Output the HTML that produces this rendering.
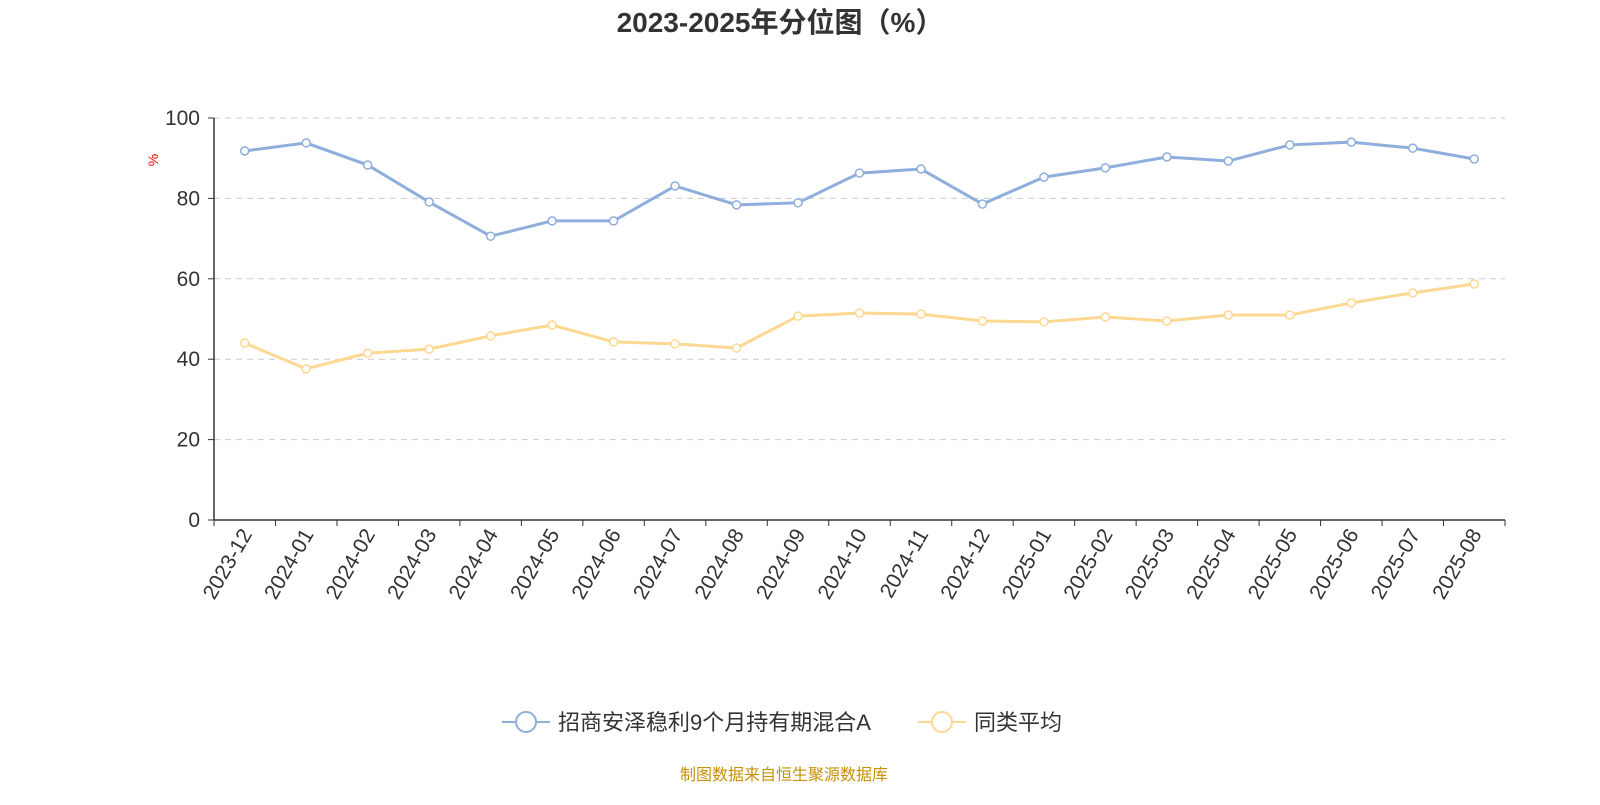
<!DOCTYPE html>
<html><head><meta charset="utf-8"><style>
body{margin:0;background:#fff;font-family:"Liberation Sans","Noto Sans CJK SC",sans-serif;}
svg text{font-family:"Liberation Sans","Noto Sans CJK SC",sans-serif;}
</style></head><body>
<svg id="chart" width="1600" height="800" viewBox="0 0 1600 800">
<text x="780" y="32" text-anchor="middle" font-size="28" font-weight="bold" fill="#333">2023-2025年分位图（%）</text>
<text x="158" y="160" font-size="14" fill="#e00" transform="rotate(-90 158 160)" text-anchor="middle">%</text>
<g id="grid"></g><g id="axes"></g><g id="series"></g>
<g>
<g>
<line x1="502" y1="722" x2="550" y2="722" stroke="#8eaedc" stroke-width="2"/>
<circle cx="526" cy="722" r="10" fill="#fff" stroke="#8eaedc" stroke-width="2"/>
<text x="558" y="730" font-size="22" fill="#333">招商安泽稳利9个月持有期混合A</text></g>
<g>
<line x1="918" y1="722" x2="966" y2="722" stroke="#fdd892" stroke-width="2"/>
<circle cx="942" cy="722" r="10" fill="#fff" stroke="#fdd892" stroke-width="2"/>
<text x="974" y="730" font-size="22" fill="#333">同类平均</text></g>
</g>
<text x="784" y="780" text-anchor="middle" font-size="16" fill="#c8900a">制图数据来自恒生聚源数据库</text>
</svg>
<script>
const categories=["2023-12","2024-01","2024-02","2024-03","2024-04","2024-05","2024-06","2024-07","2024-08","2024-09","2024-10","2024-11","2024-12","2025-01","2025-02","2025-03","2025-04","2025-05","2025-06","2025-07","2025-08"];
const fundValues=[91.8,93.8,88.3,79.1,70.6,74.4,74.4,83.1,78.4,78.9,86.3,87.3,78.6,85.3,87.6,90.3,89.3,93.3,94.0,92.5,89.8];
const avgValues=[44.0,37.6,41.5,42.5,45.8,48.5,44.3,43.8,42.8,50.7,51.5,51.2,49.5,49.3,50.5,49.5,51.0,51.0,54.0,56.5,58.7];
const yTicks=[0,20,40,60,80,100];
const NS="http://www.w3.org/2000/svg";
const L=214,R=1505,T=118,B=520;
const bw=(R-L)/categories.length;
const xPos=i=>L+bw*(i+0.5);
const yPos=v=>B-(v/100)*(B-T);
function mk(tag,attrs,parent){const e=document.createElementNS(NS,tag);for(const k in attrs)e.setAttribute(k,attrs[k]);parent.appendChild(e);return e;}
const grid=document.getElementById('grid'),axes=document.getElementById('axes'),series=document.getElementById('series');
yTicks.forEach(v=>{
 if(v>0){const g=mk('line',{x1:L,x2:R,y1:yPos(v),y2:yPos(v),stroke:'#ccc','stroke-dasharray':'6,5'},grid);
 
 }
 const t=mk('text',{x:L-14,y:yPos(v)+7,'text-anchor':'end','font-size':'21',fill:'#333'},axes);t.textContent=v;
 
 
 mk('line',{x1:L-6,x2:L,y1:yPos(v),y2:yPos(v),stroke:'#333'},axes);
});
const ya=mk('line',{x1:L,x2:L,y1:T,y2:B,stroke:'#333','stroke-width':1.5},axes);


const xa=mk('line',{x1:L,x2:R,y1:B,y2:B,stroke:'#333','stroke-width':1.5},axes);


for(let i=0;i<=categories.length;i++)mk('line',{x1:L+bw*i,x2:L+bw*i,y1:B,y2:B+6,stroke:'#333'},axes);
categories.forEach((c,i)=>{
 const x=xPos(i)+8,y=B+14;
 const t=mk('text',{x:x,y:y,'text-anchor':'end','font-size':'21',fill:'#333',transform:`rotate(-60 ${x} ${y})`},axes);
 t.textContent=c;
 
 
});
function drawSeries(vals,color,name){
 const p=mk('polyline',{points:vals.map((v,i)=>xPos(i)+','+yPos(v)).join(' '),fill:'none',stroke:color,'stroke-width':3},series);
 
 
 vals.forEach((v,i)=>{const c=mk('circle',{cx:xPos(i),cy:yPos(v),r:4,fill:'#fff',stroke:color,'stroke-width':1.5},series);
 
 });
}
drawSeries(fundValues,'#8eaedc','fund');
drawSeries(avgValues,'#fdd892','average');
</script>
</body></html>
